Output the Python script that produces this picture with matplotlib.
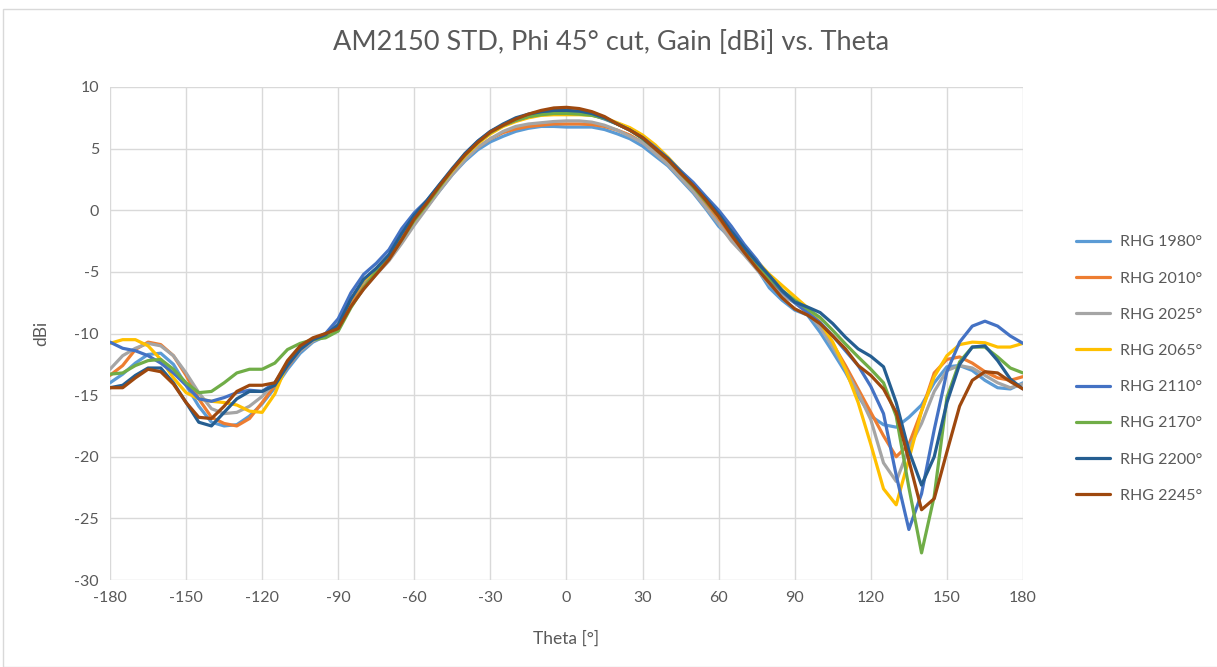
import matplotlib.pyplot as plt
import numpy as np
from matplotlib.patches import Rectangle

# =====================================================
# Data (5 deg steps)
# =====================================================

theta = list(range(-180, 181, 5))

labels = ["RHG 1980°", "RHG 2010°", "RHG 2025°", "RHG 2065°",
          "RHG 2110°", "RHG 2170°", "RHG 2200°", "RHG 2245°"]

colors = ["#5B9BD5", "#ED7D31", "#A5A5A5", "#FFC000",
          "#4472C4", "#70AD47", "#255E91", "#9E480E"]

gain_1980 = [-14.0, -13.3, -12.4, -11.7, -11.6, -12.5, -14.2, -15.9, -17.2, -17.5,
             -17.4, -16.7, -15.7, -14.4, -12.9, -11.6, -10.7, -10.2,
             -9.2, -7.3, -5.8, -4.8, -3.7, -2.3, -0.9, 0.3, 1.6, 2.9,
             4.0, 4.9, 5.55, 6.0, 6.4, 6.65, 6.8, 6.8, 6.75, 6.75,
             6.75, 6.55, 6.2, 5.8, 5.2, 4.4, 3.6, 2.5, 1.4, 0.1,
             -1.3, -2.3, -3.2, -4.7, -6.3, -7.3, -8.1,
             -8.5, -9.9, -11.5, -13.15, -15.05, -16.7, -17.4, -17.6, -16.8, -15.8,
             -14.0, -12.7, -12.6, -13.0, -13.8, -14.4, -14.5, -14.0]

gain_2010 = [-13.4, -12.6, -11.3, -10.7, -10.9, -11.8, -13.4, -15.3, -16.8, -17.3,
             -17.5, -16.9, -15.6, -14.2, -12.7, -11.4, -10.6, -10.1,
             -9.3, -7.6, -6.2, -5.0, -3.9, -2.5, -1.0, 0.3, 1.7, 3.0,
             4.2, 5.1, 5.8, 6.3, 6.6, 6.8, 6.9, 7.0, 7.0, 7.0,
             6.95, 6.8, 6.5, 6.1, 5.5, 4.7, 3.8, 2.8, 1.7, 0.4,
             -0.9, -2.3, -3.4, -4.6, -5.8, -6.7, -7.4,
             -8.1, -9.35, -10.85, -12.6, -14.5, -16.4, -18.3, -20.0, -19.0, -16.3,
             -13.2, -12.1, -11.9, -12.4, -13.1, -13.6, -13.8, -13.5]

gain_2025 = [-12.9, -11.8, -11.2, -10.8, -11.0, -11.8, -13.2, -14.8, -16.1, -16.5,
             -16.4, -15.9, -15.1, -14.0, -12.6, -11.4, -10.6, -10.2,
             -9.5, -7.8, -6.4, -5.2, -4.1, -2.7, -1.2, 0.2, 1.6, 2.9,
             4.1, 5.1, 5.8, 6.4, 6.8, 7.0, 7.1, 7.2, 7.25, 7.25,
             7.15, 6.9, 6.5, 6.0, 5.5, 4.6, 3.7, 2.6, 1.5, 0.2,
             -1.1, -2.5, -3.6, -4.8, -6.0, -6.9, -7.5,
             -8.3, -9.5, -11.1, -12.9, -14.8, -17.0, -20.5, -22.0, -19.3, -17.3,
             -14.7, -13.0, -12.6, -12.8, -13.4, -14.0, -14.4, -14.1]

gain_2065 = [-10.8, -10.5, -10.5, -11.0, -12.1, -13.6, -14.8, -15.3, -15.5, -15.6,
             -15.8, -16.3, -16.4, -14.9, -12.4, -11.2, -10.5, -10.2,
             -9.4, -7.2, -5.7, -4.8, -3.8, -2.3, -0.8, 0.5, 1.9, 3.2,
             4.4, 5.4, 6.2, 6.8, 7.2, 7.5, 7.7, 7.75, 7.75, 7.75,
             7.7, 7.5, 7.1, 6.7, 6.1, 5.3, 4.3, 3.2, 2.1, 0.9,
             -0.4, -1.7, -2.9, -4.1, -5.2, -6.1, -7.0,
             -7.9, -9.1, -10.7, -12.9, -15.6, -19.0, -22.6, -23.9, -20.2, -16.3,
             -13.5, -11.8, -10.9, -10.7, -10.75, -11.1, -11.1, -10.8]

gain_2110 = [-10.7, -11.2, -11.4, -11.8, -12.4, -13.2, -14.2, -15.3, -15.5, -15.2,
             -14.8, -14.6, -14.7, -14.0, -12.4, -11.2, -10.5, -10.0,
             -8.8, -6.7, -5.2, -4.3, -3.2, -1.5, -0.2, 0.8, 2.1, 3.3,
             4.6, 5.6, 6.4, 6.9, 7.3, 7.6, 7.8, 7.9, 7.9, 7.9,
             7.75, 7.4, 7.0, 6.5, 5.9, 5.1, 4.2, 3.2, 2.25, 1.1,
             0.0, -1.3, -2.75, -4.0, -5.5, -6.6, -7.5,
             -8.3, -9.1, -10.2, -11.4, -12.6, -14.3, -16.5, -21.5, -25.9, -23.0,
             -17.8, -13.1, -10.7, -9.4, -9.0, -9.4, -10.2, -10.8]

gain_2170 = [-13.3, -13.2, -12.6, -12.2, -12.1, -12.9, -14.0, -14.8, -14.7, -14.0,
             -13.2, -12.9, -12.9, -12.4, -11.3, -10.8, -10.5, -10.35,
             -9.8, -7.9, -6.3, -5.0, -3.9, -2.4, -0.8, 0.5, 1.9, 3.3,
             4.5, 5.5, 6.3, 6.9, 7.3, 7.6, 7.75, 7.85, 7.85, 7.8,
             7.7, 7.45, 7.0, 6.5, 5.8, 5.0, 4.1, 3.0, 1.9, 0.7,
             -0.5, -1.9, -3.1, -4.3, -5.5, -6.5, -7.3,
             -8.0, -8.7, -9.75, -10.85, -11.9, -12.9, -14.0, -16.7, -22.5, -27.8,
             -23.2, -15.2, -12.3, -11.1, -11.1, -11.9, -12.8, -13.2]

gain_2200 = [-14.4, -14.2, -13.4, -12.8, -12.8, -14.0, -15.6, -17.2, -17.5, -16.4,
             -15.3, -14.7, -14.7, -14.2, -12.6, -11.3, -10.5, -10.1,
             -9.3, -7.2, -5.6, -4.7, -3.6, -1.9, -0.4, 0.8, 2.1, 3.4,
             4.6, 5.6, 6.4, 7.0, 7.5, 7.8, 8.0, 8.1, 8.1, 8.05,
             7.85, 7.5, 7.0, 6.5, 5.85, 5.0, 4.2, 3.1, 2.0, 0.9,
             -0.3, -1.7, -3.0, -4.2, -5.3, -6.5, -7.45,
             -7.85, -8.3, -9.2, -10.3, -11.25, -11.85, -12.7, -15.6, -19.5, -22.3,
             -20.0, -15.6, -12.5, -11.1, -11.0, -12.2, -13.7, -14.5]

gain_2245 = [-14.4, -14.4, -13.6, -12.9, -13.1, -14.1, -15.6, -16.8, -16.9, -15.9,
             -14.7, -14.2, -14.2, -14.0, -12.2, -11.0, -10.35, -10.0,
             -9.6, -7.8, -6.4, -5.2, -4.0, -2.4, -0.7, 0.6, 2.0, 3.3,
             4.5, 5.5, 6.35, 6.9, 7.4, 7.8, 8.1, 8.3, 8.35, 8.25,
             8.0, 7.6, 7.0, 6.5, 5.9, 5.0, 4.1, 3.0, 2.0, 0.8,
             -0.5, -2.0, -3.4, -4.7, -5.9, -7.1, -8.0,
             -8.5, -9.2, -10.2, -11.25, -12.6, -13.4, -14.5, -16.4, -20.3, -24.3,
             -23.4, -19.6, -15.9, -13.8, -13.1, -13.2, -13.9, -14.5]

series = [gain_1980, gain_2010, gain_2025, gain_2065,
          gain_2110, gain_2170, gain_2200, gain_2245]

x_ticks = list(range(-180, 181, 30))
y_ticks = list(range(-30, 11, 5))

# =====================================================
# Style
# =====================================================

plt.rcParams.update({
    "font.family": ["Lato", "DejaVu Sans"],
    "axes.unicode_minus": False,
    "text.color": "#595959",
    "axes.labelcolor": "#595959",
    "xtick.color": "#595959",
    "ytick.color": "#595959",
})

fig = plt.figure(figsize=(12.17, 6.67), dpi=100)
fig.patches.append(Rectangle((3 / 1217, 0), 1.0, 1 - 9 / 667,
                             transform=fig.transFigure, fill=False,
                             edgecolor="#D9D9D9", linewidth=1.0))

ax = fig.add_axes([110 / 1217, 1 - 580 / 667, 913 / 1217, 493 / 667])

for vals, lab, col in zip(series, labels, colors):
    ax.plot(theta, vals, color=col, linewidth=2.3, label=lab,
            solid_joinstyle="round", solid_capstyle="round")

ax.set_xlim(-180, 180)
ax.set_ylim(-30, 10)
ax.set_xticks(x_ticks)
ax.set_yticks(y_ticks)
ax.tick_params(axis="both", length=0, labelsize=11.5, pad=8)
ax.grid(True, color="#D9D9D9", linewidth=1.0)
ax.set_axisbelow(True)
for s in ax.spines.values():
    s.set_visible(False)

ax.set_xlabel("Theta [°]", fontsize=12.5, labelpad=18)
ax.set_ylabel("dBi", fontsize=12.5, labelpad=18)

fig.text(611 / 1217, 1 - 43 / 667, "AM2150 STD, Phi 45° cut, Gain [dBi] vs. Theta",
         ha="center", va="center", fontsize=19.5, color="#595959")

fig.legend(loc="center left", bbox_to_anchor=(1062 / 1217, 1 - 369 / 667),
           frameon=False, fontsize=11.5, handlelength=2.1, handletextpad=0.6,
           labelspacing=1.38, labelcolor="#595959")

fig.savefig("out.png", dpi=100)
